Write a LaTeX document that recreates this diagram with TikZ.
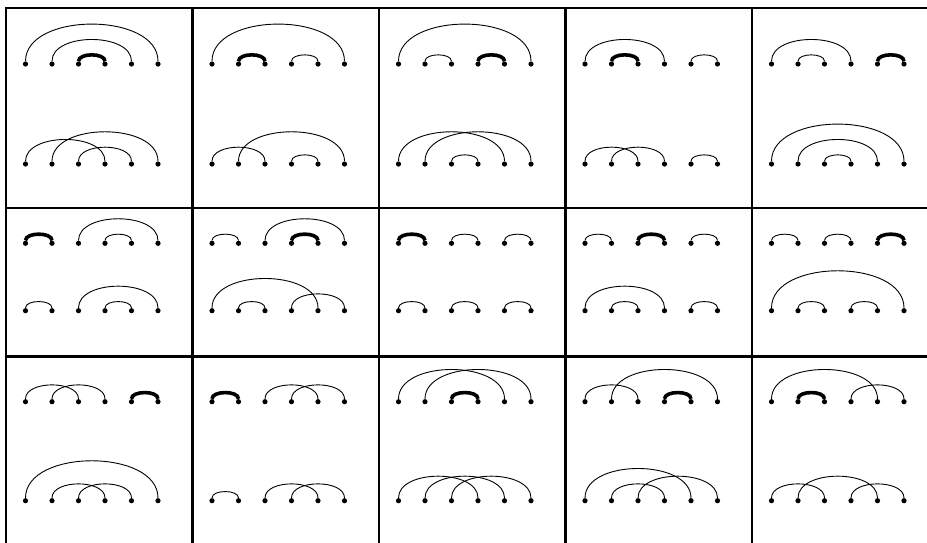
\documentclass[tikz,border=0pt]{standalone}
\tikzset{
  dot/.style={circle,fill=black,inner sep=0pt,minimum size=5.2pt},
  thinarc/.style={line width=0.9pt},
  thickarc/.style={line width=3.6pt},
  gridline/.style={line width=2.4pt,line cap=rect}
}
\newcommand\arcpair[4][thinarc]{%
  \pgfmathsetmacro\kk{1+10.26*(#4-#3)}%
  \draw[#1] (#2#3) .. controls +(0,-\kk) and +(0,-\kk) .. (#2#4);}
\begin{document}
\begin{tikzpicture}[x=1pt,y=-1pt]
\useasboundingbox (0,0) rectangle (927,542);
% grid
\draw[gridline] (6,8) -- (927,8);
\draw[gridline] (6,208) -- (927,208);
\draw[gridline] (6,356.5) -- (927,356.5);
\foreach \xx in {6,192.5,379,565.5,752}
  \draw[gridline] (\xx,8) -- (\xx,542);
% dots
\foreach \rr/\yt/\yb in {0/64/164,1/243.3/310.7,2/401.7/500.7}{
  \foreach \cc in {0,...,4}{
    \foreach \ii in {0,...,5}{
      \node[dot] (n\rr\cc t\ii) at (6+186.5*\cc+19.5+26.5*\ii,\yt) {};
      \node[dot] (n\rr\cc b\ii) at (6+186.5*\cc+19.5+26.5*\ii,\yb) {};
    }
  }
}
% row 0
\arcpair{n00t}{0}{5}\arcpair{n00t}{1}{4}\arcpair[thickarc]{n00t}{2}{3}
\arcpair{n00b}{0}{3}\arcpair{n00b}{1}{5}\arcpair{n00b}{2}{4}
\arcpair{n01t}{0}{5}\arcpair[thickarc]{n01t}{1}{2}\arcpair{n01t}{3}{4}
\arcpair{n01b}{0}{2}\arcpair{n01b}{1}{5}\arcpair{n01b}{3}{4}
\arcpair{n02t}{0}{5}\arcpair{n02t}{1}{2}\arcpair[thickarc]{n02t}{3}{4}
\arcpair{n02b}{0}{4}\arcpair{n02b}{1}{5}\arcpair{n02b}{2}{3}
\arcpair{n03t}{0}{3}\arcpair[thickarc]{n03t}{1}{2}\arcpair{n03t}{4}{5}
\arcpair{n03b}{0}{2}\arcpair{n03b}{1}{3}\arcpair{n03b}{4}{5}
\arcpair{n04t}{0}{3}\arcpair{n04t}{1}{2}\arcpair[thickarc]{n04t}{4}{5}
\arcpair{n04b}{0}{5}\arcpair{n04b}{1}{4}\arcpair{n04b}{2}{3}
% row 1
\arcpair[thickarc]{n10t}{0}{1}\arcpair{n10t}{2}{5}\arcpair{n10t}{3}{4}
\arcpair{n10b}{0}{1}\arcpair{n10b}{2}{5}\arcpair{n10b}{3}{4}
\arcpair{n11t}{0}{1}\arcpair{n11t}{2}{5}\arcpair[thickarc]{n11t}{3}{4}
\arcpair{n11b}{0}{4}\arcpair{n11b}{1}{2}\arcpair{n11b}{3}{5}
\arcpair[thickarc]{n12t}{0}{1}\arcpair{n12t}{2}{3}\arcpair{n12t}{4}{5}
\arcpair{n12b}{0}{1}\arcpair{n12b}{2}{3}\arcpair{n12b}{4}{5}
\arcpair{n13t}{0}{1}\arcpair[thickarc]{n13t}{2}{3}\arcpair{n13t}{4}{5}
\arcpair{n13b}{0}{3}\arcpair{n13b}{1}{2}\arcpair{n13b}{4}{5}
\arcpair{n14t}{0}{1}\arcpair{n14t}{2}{3}\arcpair[thickarc]{n14t}{4}{5}
\arcpair{n14b}{0}{5}\arcpair{n14b}{1}{2}\arcpair{n14b}{3}{4}
% row 2
\arcpair{n20t}{0}{2}\arcpair{n20t}{1}{3}\arcpair[thickarc]{n20t}{4}{5}
\arcpair{n20b}{0}{5}\arcpair{n20b}{1}{3}\arcpair{n20b}{2}{4}
\arcpair[thickarc]{n21t}{0}{1}\arcpair{n21t}{2}{4}\arcpair{n21t}{3}{5}
\arcpair{n21b}{0}{1}\arcpair{n21b}{2}{4}\arcpair{n21b}{3}{5}
\arcpair{n22t}{0}{4}\arcpair{n22t}{1}{5}\arcpair[thickarc]{n22t}{2}{3}
\arcpair{n22b}{0}{3}\arcpair{n22b}{1}{4}\arcpair{n22b}{2}{5}
\arcpair{n23t}{0}{2}\arcpair{n23t}{1}{5}\arcpair[thickarc]{n23t}{3}{4}
\arcpair{n23b}{0}{4}\arcpair{n23b}{1}{3}\arcpair{n23b}{2}{5}
\arcpair{n24t}{0}{4}\arcpair[thickarc]{n24t}{1}{2}\arcpair{n24t}{3}{5}
\arcpair{n24b}{0}{2}\arcpair{n24b}{1}{4}\arcpair{n24b}{3}{5}
\end{tikzpicture}
\end{document}
